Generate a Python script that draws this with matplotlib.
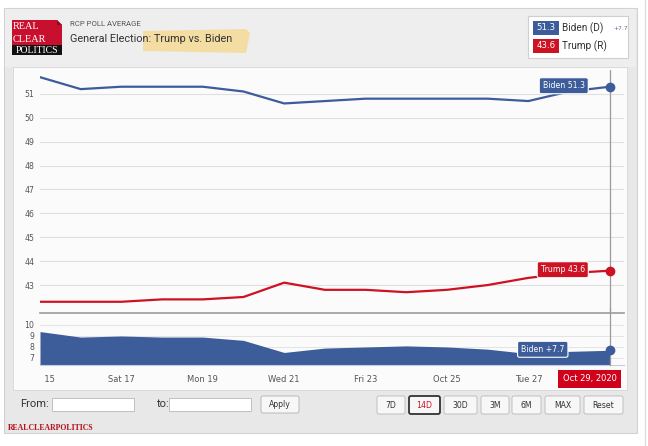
import numpy as np
import matplotlib.pyplot as plt
from matplotlib.patches import Rectangle, FancyBboxPatch, Polygon
from matplotlib.transforms import Bbox, TransformedBbox

# RCP poll average, Oct 15 - Oct 29, 2020
days = [15, 16, 17, 18, 19, 20, 21, 22, 23, 24, 25, 26, 27, 28, 29]
biden = [51.7, 51.2, 51.3, 51.3, 51.3, 51.1, 50.6, 50.7, 50.8, 50.8, 50.8, 50.8, 50.7, 51.1, 51.3]
trump = [42.3, 42.3, 42.3, 42.4, 42.4, 42.5, 43.1, 42.8, 42.8, 42.7, 42.8, 43.0, 43.3, 43.5, 43.6]
spread = [9.4, 8.9, 9.0, 8.9, 8.9, 8.6, 7.5, 7.9, 8.0, 8.1, 8.0, 7.8, 7.4, 7.6, 7.7]
tick_days = [15, 17, 19, 21, 23, 25, 27]
tick_labels = ["Thu 15", "Sat 17", "Mon 19", "Wed 21", "Fri 23", "Oct 25", "Tue 27"]
main_ticks = [43, 44, 45, 46, 47, 48, 49, 50, 51]
low_ticks = [7, 8, 9, 10]
buttons = ["7D", "14D", "30D", "3M", "6M", "MAX", "Reset"]

BLUE = "#3d5c9a"
RED = "#cc1223"
W, H = 648, 446

fig = plt.figure(figsize=(W / 100, H / 100), dpi=100)
fig.patch.set_facecolor("white")


def add_ax(x0, y0, x1, y1):
    # pixel box (top-left origin) -> axes
    return fig.add_axes([x0 / W, 1 - y1 / H, (x1 - x0) / W, (y1 - y0) / H])


# background / page chrome in pixel coords
bg = fig.add_axes([0, 0, 1, 1], zorder=0)
bg.set_xlim(0, W)
bg.set_ylim(H, 0)
bg.axis("off")

bg.add_patch(Rectangle((4, 8), 633, 425, fc="#e8e8e8", ec="#d2d2d2", lw=0.8))
bg.add_patch(Rectangle((5, 9), 631, 58, fc="#eeeeee", lw=0))
bg.plot([645, 645], [0, H], color="#dddddd", lw=1)
bg.add_patch(Rectangle((13, 67), 614, 323, fc="#fbfbfc", ec="#d6d6d6", lw=0.6))

# logo
bg.add_patch(Polygon([(12, 20), (57, 20), (62, 25), (62, 45), (12, 45)], fc="#c8102e", lw=0))
bg.add_patch(Polygon([(57, 20), (62, 25), (57, 25)], fc="#8e0b1f", lw=0))
bg.add_patch(Rectangle((12, 45), 50, 10, fc="#111111", lw=0))
serif = "Liberation Serif"
bg.text(13, 26.5, "REAL", color="white", fontsize=7.4, family=serif, va="center")
bg.text(13, 39, "CLEAR", color="white", fontsize=7.4, family=serif, va="center")
bg.text(37, 50.5, "POLITICS", color="white", fontsize=7, family=serif, va="center", ha="center")

# header
bg.add_patch(Polygon([(143, 31), (246, 29), (250, 33), (246, 53), (143, 51)],
                     fc="#f5d88a", alpha=0.75, lw=0))
bg.text(70, 24, "RCP POLL AVERAGE", fontsize=5.6, family="Roboto", color="#555555", va="center")
bg.text(70, 39.5, "General Election: Trump vs. Biden", fontsize=7.8, family="Roboto",
        color="#333333", va="center")

# legend box
bg.add_patch(Rectangle((528, 16), 100, 42, fc="white", ec="#cfcfcf", lw=0.8))
bg.add_patch(Rectangle((533, 21), 26, 14, fc=BLUE, lw=0))
bg.add_patch(Rectangle((533, 39), 26, 14, fc=RED, lw=0))
bg.text(546, 28, "%.1f" % biden[-1], color="white", fontsize=6.2, ha="center", va="center")
bg.text(546, 46, "%.1f" % trump[-1], color="white", fontsize=6.2, ha="center", va="center")
bg.text(562, 28, "Biden (D)", fontsize=7.2, family="Roboto", color="#333333", va="center")
bg.text(562, 46, "Trump (R)", fontsize=7.2, family="Roboto", color="#333333", va="center")
bg.text(613, 28.5, "+%.1f" % spread[-1], fontsize=4.3, color="#5d739e", va="center")

# controls row
bg.text(20, 404, "From:", fontsize=8, family="Roboto", color="#333333", va="center")
bg.add_patch(Rectangle((52, 398), 82, 13, fc="white", ec="#b8b8b8", lw=0.6))
bg.text(157, 404, "to:", fontsize=8, family="Roboto", color="#333333", va="center")
bg.add_patch(Rectangle((169, 398), 82, 13, fc="white", ec="#b8b8b8", lw=0.6))
bg.add_patch(FancyBboxPatch((261, 396), 38, 17, boxstyle="round,pad=0,rounding_size=2",
                            fc="#f7f7f7", ec="#b0b0b0", lw=0.6))
bg.text(280, 404.5, "Apply", fontsize=5.6, color="#333333", ha="center", va="center")
btn_x = [(377, 405), (409, 440), (444, 477), (481, 509), (512, 541), (545, 580), (584, 623)]
for (x0, x1), name in zip(btn_x, buttons):
    active = name == "14D"
    bg.add_patch(FancyBboxPatch((x0, 396), x1 - x0, 18, boxstyle="round,pad=0,rounding_size=2",
                                fc="#f7f7f7", ec="#333333" if active else "#b8b8b8",
                                lw=1.3 if active else 0.6))
    bg.text((x0 + x1) / 2, 405, name, fontsize=5.6, color=RED if active else "#333333",
            ha="center", va="center")
bg.text(8, 427.5, "REALCLEARPOLITICS", fontsize=5.6, family=serif, weight="bold",
        color="#b3121f", va="center")

# main panel
ax = add_ax(40, 70, 624, 313)
ax.set_facecolor("none")
ax.plot(days, biden, color=BLUE, lw=1.6, solid_joinstyle="round")
ax.plot(days, trump, color=RED, lw=1.6, solid_joinstyle="round")
ax.plot(days[-1:], biden[-1:], "o", color=BLUE, ms=6, clip_on=False, zorder=5)
ax.plot(days[-1:], trump[-1:], "o", color=RED, ms=6, clip_on=False, zorder=5)
ax.axvline(days[-1], color="#9a9a9a", lw=0.9, zorder=1)
ax.set_xlim(15, 29.35)
ax.set_ylim(41.83, 52.0)
ax.set_yticks(main_ticks)
ax.set_xticks([])
ax.grid(axis="y", color="#e0e0e0", lw=0.8)
ax.set_axisbelow(True)
for s in ["top", "left", "right"]:
    ax.spines[s].set_visible(False)
ax.spines["bottom"].set_color("#9c9c9c")
ax.spines["bottom"].set_linewidth(1.2)
ax.tick_params(axis="y", length=0, labelsize=5.6, labelcolor="#555555", pad=4)

box = dict(boxstyle="round,pad=0.45,rounding_size=0.25", ec="white", lw=0.8)
ax.annotate("Biden %.1f" % biden[-1], xy=(days[-1], biden[-1]), xytext=(-46, 1),
            textcoords="offset pixels", ha="center", va="center", color="white",
            fontsize=5.6, bbox=dict(box, fc=BLUE), zorder=6, annotation_clip=False)
ax.annotate("Trump %.1f" % trump[-1], xy=(days[-1], trump[-1]), xytext=(-47, 1),
            textcoords="offset pixels", ha="center", va="center", color="white",
            fontsize=5.6, bbox=dict(box, fc=RED), zorder=6, annotation_clip=False)

# spread panel
low = add_ax(40, 313, 624, 365)
low.set_facecolor("none")
low.fill_between(days, 6.36, spread, color=BLUE, lw=0, zorder=2)
low.plot(days[-1:], spread[-1:], "o", color=BLUE, ms=6, clip_on=False, zorder=5)
low.axvline(days[-1], color="#9a9a9a", lw=0.9, zorder=3, ymax=1.1, clip_on=False)
low.set_xlim(15, 29.35)
low.set_ylim(6.36, 11.09)
low.set_yticks(low_ticks)
low.grid(axis="y", color="#e4e4e4", lw=0.7)
low.set_axisbelow(True)
for s in ["top", "left", "right"]:
    low.spines[s].set_visible(False)
low.spines["bottom"].set_color("#c5cede")
low.spines["bottom"].set_linewidth(0.8)
low.tick_params(axis="y", length=0, labelsize=5.6, labelcolor="#555555", pad=4)
low.set_xticks(tick_days)
low.set_xticklabels(tick_labels)
low.tick_params(axis="x", length=0, labelsize=6, labelcolor="#555555", pad=7)
clip = TransformedBbox(Bbox([[40.5 / W, 0], [1, 1]]), fig.transFigure)
first = low.get_xticklabels()[0]
first.set_clip_on(True)
first.set_clip_box(clip)

low.annotate("Biden +%.1f" % spread[-1], xy=(days[-1], spread[-1]), xytext=(-67, 1),
             textcoords="offset pixels", ha="center", va="center", color="white",
             fontsize=5.6, bbox=dict(box, fc=BLUE), zorder=6, annotation_clip=False)
low.annotate("Oct 29, 2020", xy=(days[-1], 0), xycoords=("data", "axes fraction"),
             xytext=(-20, -14), textcoords="offset pixels", ha="center", va="center",
             color="white", fontsize=6, annotation_clip=False,
             bbox=dict(boxstyle="square,pad=0.55", fc="#d0021b", ec="none"))

fig.savefig("out.png", dpi=100)
